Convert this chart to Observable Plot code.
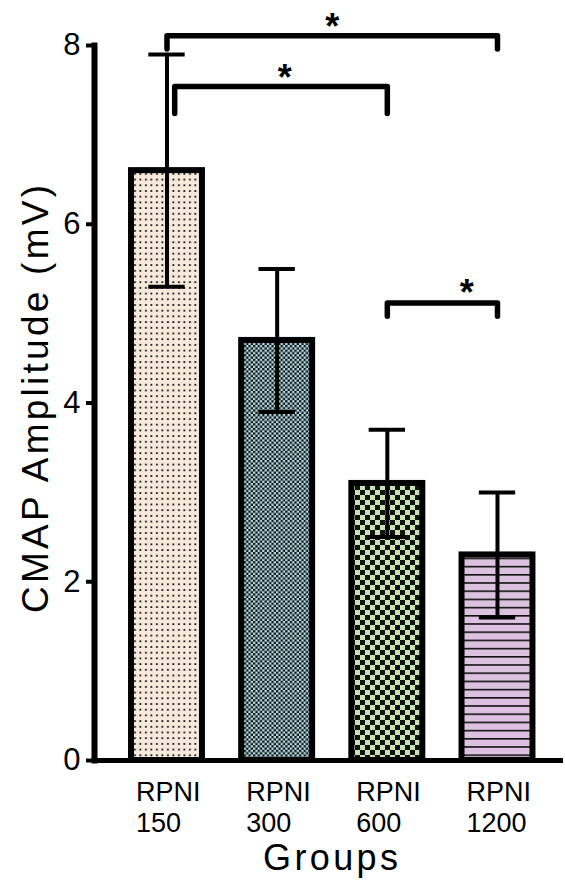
<!DOCTYPE html>
<html>
<head>
<meta charset="utf-8">
<script src="https://cdn.jsdelivr.net/npm/d3@7"></script>
<script src="https://cdn.jsdelivr.net/npm/@observablehq/plot@0.6"></script>
<style>
  html, body { margin: 0; padding: 0; background: #fff; }
  #chart { width: 565px; height: 886px; }
</style>
</head>
<body>
<div id="chart"></div>
<script>
// ---- data ----
const groups = ["RPNI\n150", "RPNI\n300", "RPNI\n600", "RPNI\n1200"];
const groupPos = [1, 2, 3, 4];
const means = [6.6, 4.7, 3.1, 2.3];
const errLow = [5.3, 3.9, 2.5, 1.6];
const errHigh = [7.9, 5.5, 3.7, 3.0];
const yTicks = [0, 2, 4, 6, 8];
const yLabel = "CMAP Amplitude (mV)";
const xLabel = "Groups";

// significance brackets (group positions, y levels)
const sigFrom = [1, 1.07, 3];
const sigTo = [4, 3, 4];
const sigTop = [8.11, 7.54, 5.12];
const sigLeg = [7.96, 7.24, 4.97];
const sigStarX = [2.5, 2.07, 3.72];
const sigStarY = [8.2, 7.63, 5.22];
const sigText = ["*", "*", "*"];

// ---- tables built from arrays ----
const data = groups.map((g, i) => ({group: g, pos: groupPos[i], mean: means[i], lo: errLow[i], hi: errHigh[i]}));
const bracketPts = sigFrom.flatMap((f, i) => [
  {k: i, x: f, y: sigLeg[i]},
  {k: i, x: f, y: sigTop[i]},
  {k: i, x: sigTo[i], y: sigTop[i]},
  {k: i, x: sigTo[i], y: sigLeg[i]}
]);
const stars = sigStarX.map((x, i) => ({x, y: sigStarY[i], t: sigText[i]}));
const patternFills = groups.map((g, i) => `url(#pat${i})`);

const halfBar = 0.322;
const halfCap = 0.165;

const svg = Plot.plot({
  width: 565,
  height: 886,
  marginLeft: 94,
  marginRight: 5,
  marginTop: 45,
  marginBottom: 126,
  style: {fontFamily: "'Liberation Sans', Arial, Helvetica, sans-serif", color: "#000", background: "#fff", overflow: "visible"},
  x: {domain: [0.342, 4.572], axis: null},
  y: {domain: [0, 8], axis: null},
  color: {domain: groups, range: patternFills},
  marks: [
    Plot.rectY(data, {x1: d => d.pos - halfBar, x2: d => d.pos + halfBar, y: "mean", fill: "group", stroke: "#000", strokeWidth: 6}),
    Plot.ruleX(data, {x: "pos", y1: "lo", y2: "hi", stroke: "#000", strokeWidth: 4}),
    Plot.ruleY(data, {y: "hi", x1: d => d.pos - halfCap, x2: d => d.pos + halfCap, stroke: "#000", strokeWidth: 4}),
    Plot.ruleY(data, {y: "lo", x1: d => d.pos - halfCap, x2: d => d.pos + halfCap, stroke: "#000", strokeWidth: 4}),
    Plot.frame({anchor: "left", stroke: "#000", strokeWidth: 6, strokeLinecap: "square"}),
    Plot.frame({anchor: "bottom", stroke: "#000", strokeWidth: 5, strokeLinecap: "square"}),
    Plot.axisY({ticks: yTicks, tickSize: 8, tickPadding: 6, fontSize: 31, strokeWidth: 4, label: null}),
    Plot.text(data, {x: "pos", frameAnchor: "bottom", text: "group", lineAnchor: "top", textAnchor: "start", dx: -31, dy: 18, fontSize: 27, lineHeight: 1.15}),
    Plot.text([xLabel], {frameAnchor: "bottom", text: d => d, fontSize: 36, textAnchor: "middle", lineAnchor: "middle", dx: 3, dy: 98}),
    Plot.text([yLabel], {frameAnchor: "left", text: d => d, fontSize: 37, rotate: -90, textAnchor: "middle", lineAnchor: "middle", dx: -58, dy: -4}),
    Plot.line(bracketPts, {x: "x", y: "y", z: "k", stroke: "#000", strokeWidth: 5.5, strokeLinejoin: "round"}),
    Plot.text(stars, {x: "x", y: "y", text: "t", fontSize: 36, fontWeight: "bold", lineAnchor: "middle"})
  ]
});

// pattern fills for bars
const defs = d3.select(svg).insert("defs", ":first-child");
// 0: beige with dots
const p0 = defs.append("pattern").attr("id", "pat0").attr("patternUnits", "userSpaceOnUse").attr("width", 5.5).attr("height", 5.7);
p0.append("rect").attr("width", 5.5).attr("height", 5.7).attr("fill", "#f7eadc");
p0.append("rect").attr("x", 2).attr("y", 2).attr("width", 1.8).attr("height", 1.8).attr("fill", "#111");
// 1: fine checker black / light blue
const p1 = defs.append("pattern").attr("id", "pat1").attr("patternUnits", "userSpaceOnUse").attr("width", 4.6).attr("height", 4.6);
p1.append("rect").attr("width", 4.6).attr("height", 4.6).attr("fill", "#b4e0e8");
p1.append("rect").attr("width", 2.3).attr("height", 2.3).attr("fill", "#111");
p1.append("rect").attr("x", 2.3).attr("y", 2.3).attr("width", 2.3).attr("height", 2.3).attr("fill", "#111");
// 2: coarse checker black / light green
const p2 = defs.append("pattern").attr("id", "pat2").attr("patternUnits", "userSpaceOnUse").attr("width", 10).attr("height", 10);
p2.append("rect").attr("width", 10).attr("height", 10).attr("fill", "#c8e4b5");
p2.append("rect").attr("width", 5).attr("height", 5).attr("fill", "#111");
p2.append("rect").attr("x", 5).attr("y", 5).attr("width", 5).attr("height", 5).attr("fill", "#111");
// 3: pink with horizontal lines
const p3 = defs.append("pattern").attr("id", "pat3").attr("patternUnits", "userSpaceOnUse").attr("width", 10).attr("height", 8.2);
p3.append("rect").attr("width", 10).attr("height", 8.2).attr("fill", "#dcc2e0");
p3.append("rect").attr("y", 0).attr("width", 10).attr("height", 1.6).attr("fill", "#111");

// exact spread of the axis titles, as in the reference
const sel = d3.select(svg);
sel.selectAll("text").filter(function() { return this.textContent === xLabel; })
  .attr("textLength", 135).attr("lengthAdjust", "spacing");
sel.selectAll("text").filter(function() { return this.textContent === yLabel; })
  .attr("textLength", 428).attr("lengthAdjust", "spacing");
// y tick labels size
sel.selectAll('g[aria-label="y-axis tick label"]').attr("font-size", 31);

document.getElementById("chart").appendChild(svg);
</script>
</body>
</html>
